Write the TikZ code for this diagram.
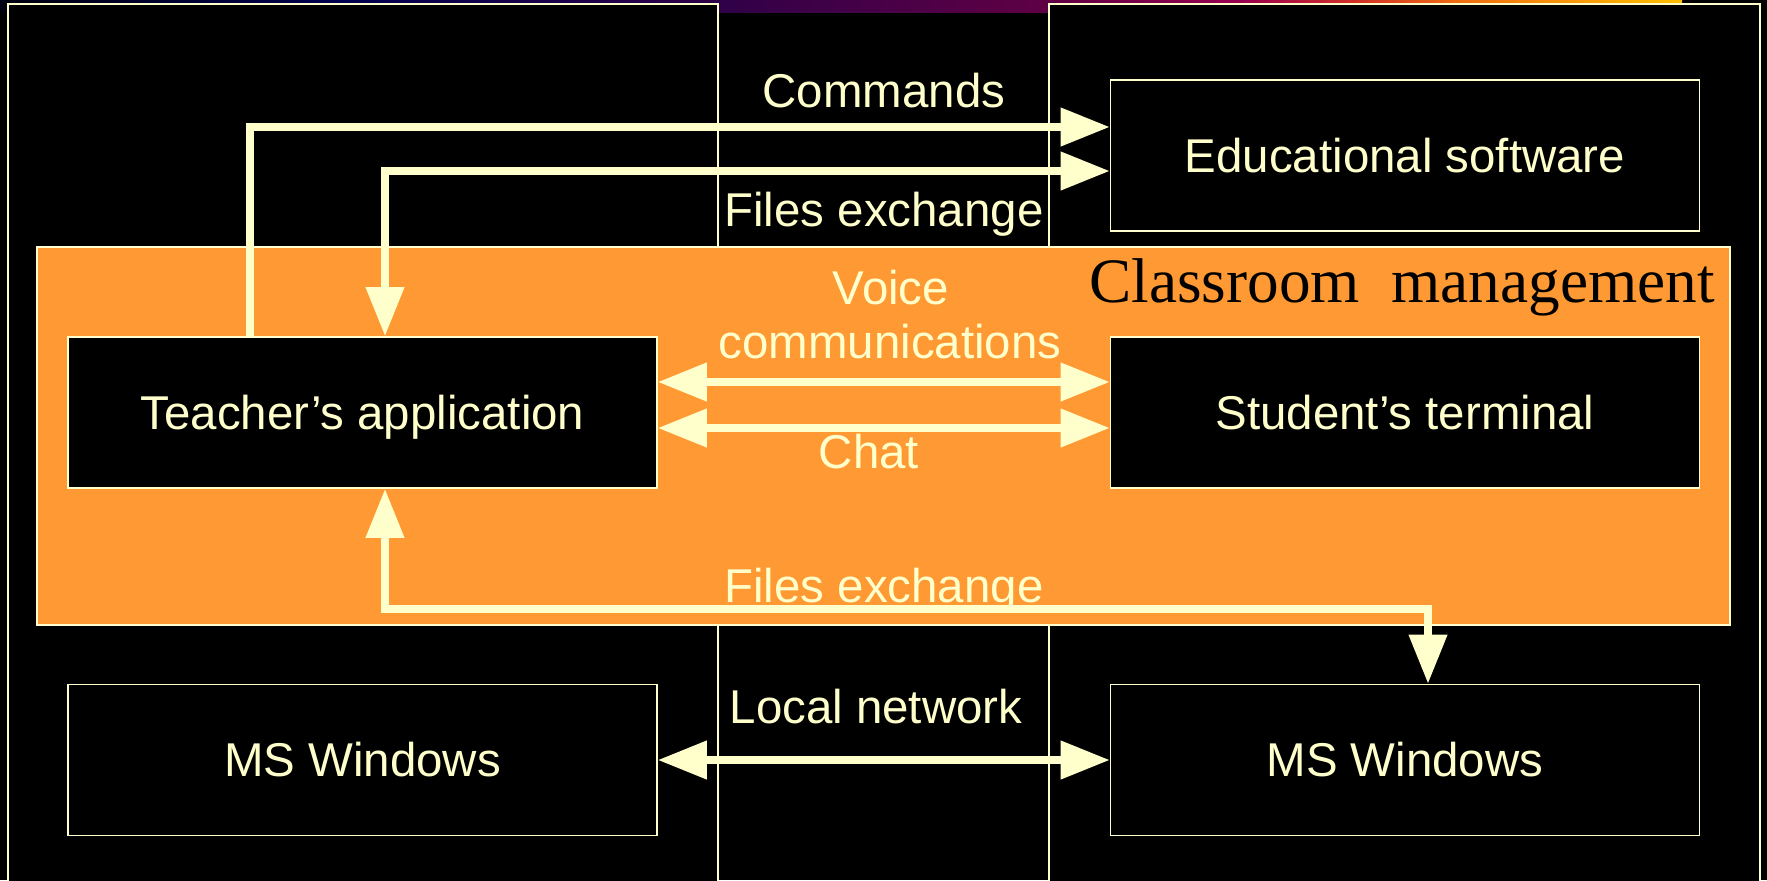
\documentclass[tikz,border=0pt]{standalone}
\usepackage{fontspec}
\setmainfont{Liberation Sans}
\newfontfamily\titleserif{Liberation Serif}
\usepackage{tikz}
\usetikzlibrary{arrows.meta}

\definecolor{cream}{HTML}{FFFFCC}
\definecolor{slideorange}{HTML}{FF9933}
\definecolor{bandA}{HTML}{000010}
\definecolor{bandB}{HTML}{000050}
\definecolor{bandC}{HTML}{300048}
\definecolor{bandD}{HTML}{600045}
\definecolor{bandE}{HTML}{9A0050}
\definecolor{bandF}{HTML}{D03028}
\definecolor{bandG}{HTML}{F07010}
\definecolor{bandH}{HTML}{FFC000}
\pgfdeclarehorizontalshading{topband}{100bp}{color(0bp)=(bandA); color(25bp)=(bandA);
  color(35bp)=(bandB); color(46.4bp)=(bandC); color(56.2bp)=(bandD); color(61.9bp)=(bandE);
  color(65.2bp)=(bandF); color(68.5bp)=(bandG); color(75bp)=(bandH); color(100bp)=(bandH)}

\begin{document}
\begin{tikzpicture}[x=0.02cm, y=-0.02cm,
  box/.style={draw=cream, line width=0.9pt, fill=black, text=cream, inner sep=0pt,
    minimum width=11.78cm, minimum height=3.02cm, text height=19.3pt, text depth=0pt,
    font=\fontsize{27}{32}\selectfont},
  lbl/.style={anchor=base, text=cream, inner sep=0pt, font=\fontsize{27}{32}\selectfont},
  link/.style={draw=cream, line width=4.5pt, -{Triangle[length=28pt,width=21pt]}},
  dlink/.style={link, {Triangle[length=28pt,width=21pt]}-{Triangle[length=28pt,width=21pt]}}]
\useasboundingbox (0,0) rectangle (1767,880);
\fill[black] (0,0) rectangle (1767,880);
\shade[shading=topband] (0,0) rectangle (1682,12);

\draw[cream, line width=1.1pt, fill=black] (8,4) rectangle (718,900);
\draw[cream, line width=1.1pt, fill=black] (1049,4) rectangle (1760,900);
\draw[cream, line width=0.9pt, fill=slideorange] (37,247) rectangle (1730,625);

\node[anchor=base east, inner sep=0pt, font=\titleserif\fontsize{36}{40}\selectfont] (cmtitle) at (1715,302) {Classroom\ \ management};

\node[box] (edu) at (1405,155.5) {Educational software};
\node[box] (teach) at (362.5,412.5) {Teacher’s application};
\node[box] (stud) at (1405,412.5) {Student’s terminal};
\node[box] (winL) at (362.5,760) {MS Windows};
\node[box] (winR) at (1405,760) {MS Windows};

\coordinate (cmdbend) at (250,127);
\coordinate (fxbend) at (385,171);
\coordinate (voiceln) at (884,382);
\coordinate (chatln) at (884,428);
\coordinate (fxlow) at (1428,609);

\draw[link] (teach.north -| cmdbend) |- (edu.west |- cmdbend);
\draw[dlink] (teach.north -| fxbend) |- (edu.west |- fxbend);
\draw[dlink] (teach.east |- voiceln) -- (stud.west |- voiceln);
\draw[dlink] (teach.east |- chatln) -- (stud.west |- chatln);
\draw[dlink] (teach.south -| fxbend) |- (fxlow) -- (winR.north -| fxlow);
\draw[dlink] (winL.east) -- (winR.west);

\node[lbl] (cmdtxt) at (884,107) {Commands};
\node[lbl] (fxtoptxt) at (884,226) {Files exchange};
\node[lbl] (voicetxt) at (891,304) {Voice};
\node[lbl] (commtxt) at (890,358) {communications};
\node[lbl] (chattxt) at (869,468) {Chat};
\node[lbl] (fxlowtxt) at (884,602) {Files exchange};
\node[lbl] (lantxt) at (876,723) {Local network};
\end{tikzpicture}
\end{document}
